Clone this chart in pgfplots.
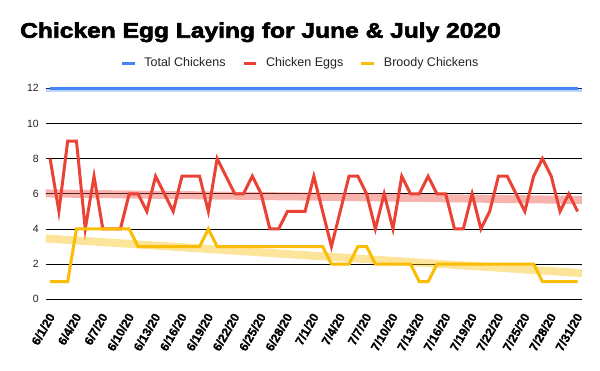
\documentclass[border=0pt]{standalone}
\usepackage{fontspec}
\setmainfont{Liberation Sans}
\newfontfamily\titlefont{Liberation Sans}[BoldFeatures={FakeBold=3,FakeStretch=1.17}]
\newfontfamily\lblfont{Liberation Sans Bold}[FakeBold=1.2]
\usepackage{pgfplots}
\pgfplotsset{compat=1.18}
\definecolor{gblue}{HTML}{4285F4}
\definecolor{gred}{HTML}{EA4335}
\definecolor{gyellow}{HTML}{FBBC04}
\definecolor{txt}{HTML}{222222}
\begin{document}
\begin{tikzpicture}
\useasboundingbox (0,0) rectangle (600pt,371pt);
\node[anchor=base west, inner sep=0pt, font=\titlefont\bfseries\fontsize{21}{24}\selectfont] at (20pt,333.3pt) {Chicken Egg Laying for June \& July 2020};
\begin{axis}[
  at={(45.7pt,71.7pt)}, anchor=south west,
  scale only axis, width=536.3pt, height=211pt,
  xmin=-0.5, xmax=60.5, ymin=0, ymax=12,
  clip=false,
  axis line style={draw=none},
  tick style={draw=none},
  ytick={0,2,...,12},
  ymajorgrids,
  major grid style={black, line width=0.6pt},
  xtick={0,3,...,60},
  xticklabels={6/1/20,6/4/20,6/7/20,6/10/20,6/13/20,6/16/20,6/19/20,6/22/20,6/25/20,6/28/20,7/1/20,7/4/20,7/7/20,7/10/20,7/13/20,7/16/20,7/19/20,7/22/20,7/25/20,7/28/20,7/31/20},
  /pgf/number format/assume math mode=true,
  yticklabel style={font=\fontsize{10.5}{12}\selectfont, text=txt, inner sep=0pt, xshift=-6.7pt},
  xticklabel style={font=\lblfont\fontsize{12.3}{14}\selectfont, text=black, inner sep=0pt, xshift=-2.5pt, yshift=-12.5pt, rotate=60, anchor=north east},
  legend columns=3,
  legend style={draw=none, fill=none, at={(0.473,1.121)}, anchor=center,
    font=\fontsize{12.5}{14}\selectfont, text=txt,
    nodes={inner sep=0pt, anchor=base},
    /tikz/every odd column/.append style={column sep=8.3pt},
    /tikz/every even column/.append style={column sep=16.6pt}},
  legend image code/.code={\draw[line width=3pt] (0pt,3.3pt) -- (12.7pt,3.3pt);},
]
% trendlines
\addplot[forget plot, gblue, opacity=0.35, line width=4pt] coordinates {(-0.5,11.885) (60.5,11.885)};
\addplot[forget plot, gred, opacity=0.4, line width=8pt] coordinates {(-0.5,6.02) (60.5,5.65)};
\addplot[forget plot, gyellow, opacity=0.4, line width=8pt] coordinates {(-0.5,3.46) (60.5,1.49)};
% series
\addplot[gblue, line width=3pt] coordinates {(0,12) (60,12)};
\addlegendentry{Total Chickens}
\addplot[gred, line width=3pt, line join=miter] coordinates {
(0,8) (1,5) (2,9) (3,9) (4,4) (5,7) (6,4) (7,4) (8,4) (9,6)
(10,6) (11,5) (12,7) (13,6) (14,5) (15,7) (16,7) (17,7) (18,5) (19,8)
(20,7) (21,6) (22,6) (23,7) (24,6) (25,4) (26,4) (27,5) (28,5) (29,5)
(30,7) (31,5) (32,3) (33,5) (34,7) (35,7) (36,6) (37,4) (38,6) (39,4)
(40,7) (41,6) (42,6) (43,7) (44,6) (45,6) (46,4) (47,4) (48,6) (49,4)
(50,5) (51,7) (52,7) (53,6) (54,5) (55,7) (56,8) (57,7) (58,5) (59,6) (60,5)};
\addlegendentry{Chicken Eggs}
\addplot[gyellow, line width=3pt, line join=miter] coordinates {
(0,1) (1,1) (2,1) (3,4) (4,4) (5,4) (6,4) (7,4) (8,4) (9,4)
(10,3) (11,3) (12,3) (13,3) (14,3) (15,3) (16,3) (17,3) (18,4) (19,3)
(20,3) (21,3) (22,3) (23,3) (24,3) (25,3) (26,3) (27,3) (28,3) (29,3)
(30,3) (31,3) (32,2) (33,2) (34,2) (35,3) (36,3) (37,2) (38,2) (39,2)
(40,2) (41,2) (42,1) (43,1) (44,2) (45,2) (46,2) (47,2) (48,2) (49,2)
(50,2) (51,2) (52,2) (53,2) (54,2) (55,2) (56,1) (57,1) (58,1) (59,1) (60,1)};
\addlegendentry{Broody Chickens}
\end{axis}
\end{tikzpicture}
\end{document}
